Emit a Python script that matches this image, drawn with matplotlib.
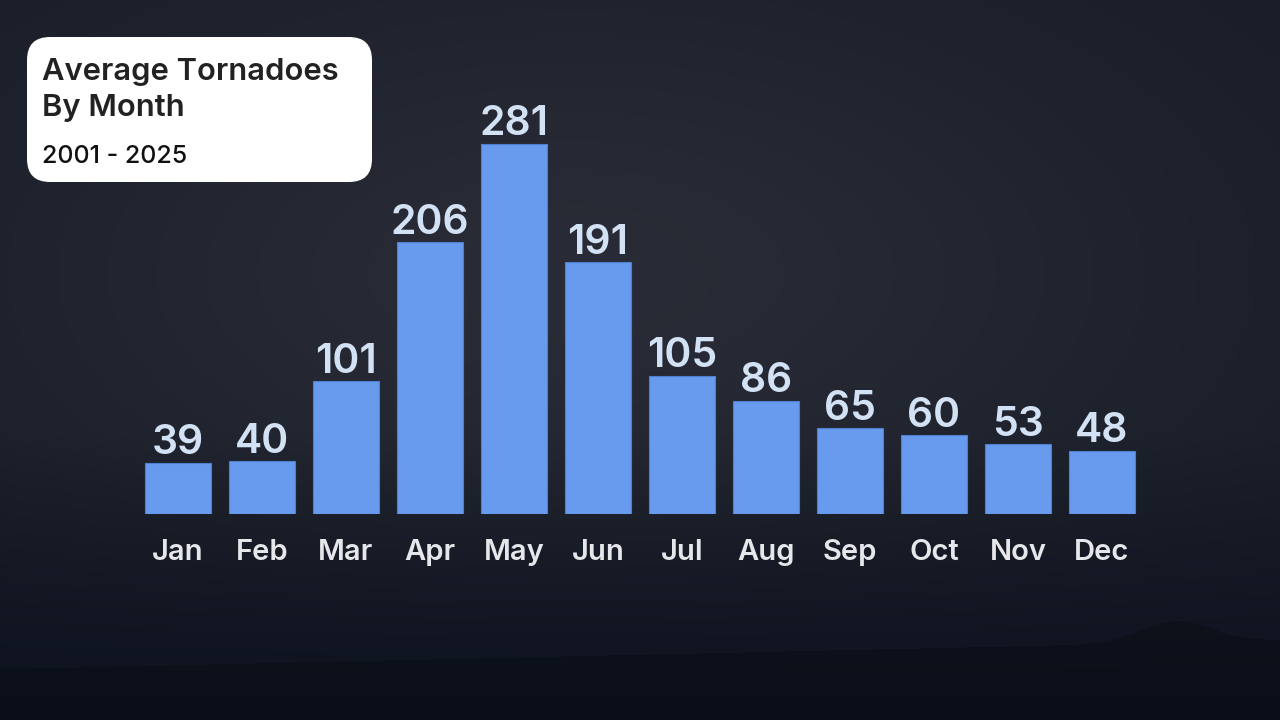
import numpy as np
import matplotlib
matplotlib.use('Agg')
import matplotlib.pyplot as plt
from matplotlib.patches import FancyBboxPatch

months = ['Jan', 'Feb', 'Mar', 'Apr', 'May', 'Jun', 'Jul', 'Aug', 'Sep', 'Oct', 'Nov', 'Dec']
avg_tornadoes = [39, 40, 101, 206, 281, 191, 105, 86, 65, 60, 53, 48]

title_lines = ['Average Tornadoes', 'By Month']
subtitle = '2001 - 2025'

plt.rcParams['font.family'] = ['Inter', 'DejaVu Sans']

W, H = 1280, 720
fig = plt.figure(figsize=(W / 100, H / 100), dpi=100)

# background: dark stormy gradient with a faint hill line at the bottom
bg = fig.add_axes([0, 0, 1, 1])
yy, xx = np.mgrid[0:1:H * 1j, 0:1:W * 1j]
glow = np.exp(-(((xx - 0.45) / 0.5) ** 2 + ((yy - 0.38) / 0.45) ** 2))
top = np.array([0.09, 0.11, 0.15])
mid = np.array([0.16, 0.17, 0.21])
low = np.array([0.05, 0.07, 0.12])
shade = np.clip((yy - 0.6) / 0.4, 0, 1)[..., None]
img = top + (mid - top) * glow[..., None]
img = img * (1 - shade) + low * shade
ridge = 0.93 - 0.04 * xx - 0.03 * np.exp(-((xx - 0.92) / 0.04) ** 2)
img[yy > ridge] = img[yy > ridge] * 0.8
bg.imshow(img, extent=[0, 1, 0, 1], aspect='auto', origin='upper')
bg.set_xlim(0, 1)
bg.set_ylim(0, 1)
bg.axis('off')

# chart axes (bar centres 178 + 84*i px, baseline at y=514 px)
ax = fig.add_axes([136 / W, (H - 514) / H, 1008 / W, 414 / H])
ax.patch.set_alpha(0)
x = np.arange(len(months))
ax.bar(x, avg_tornadoes, width=0.79, color='#689bee', edgecolor='#4f7fcf', linewidth=0.8)
for xi, v in zip(x, avg_tornadoes):
    ax.annotate(str(v), (xi, v), xytext=(0, 6), textcoords='offset points',
                ha='center', va='baseline', fontsize=29.5,
                fontweight='semibold', color='#d2e1f4')
ax.set_xlim(-0.5, len(months) - 0.5)
ax.set_ylim(0, 314)
ax.set_xticks(x)
ax.set_xticklabels(months, fontsize=21, fontweight='semibold', color='#e6e7ea')
ax.tick_params(axis='x', length=0, pad=18)
ax.set_yticks([])
for s in ax.spines.values():
    s.set_visible(False)

# title card
box = FancyBboxPatch((27 / W, (H - 182) / H), 345 / W, 145 / H,
                     boxstyle='round,pad=0,rounding_size=0.018',
                     transform=fig.transFigure, facecolor='white', edgecolor='none',
                     mutation_aspect=W / H)
fig.patches.append(box)
fig.text(42 / W, (H - 80) / H, title_lines[0], ha='left', va='baseline', fontsize=22.3,
         fontweight='semibold', color='#222222')
fig.text(42 / W, (H - 116) / H, title_lines[1], ha='left', va='baseline', fontsize=22.3,
         fontweight='semibold', color='#222222')
fig.text(42 / W, (H - 163) / H, subtitle, ha='left', va='baseline', fontsize=18,
         fontweight='medium', color='#111111')

fig.savefig('out.png', dpi=100)
